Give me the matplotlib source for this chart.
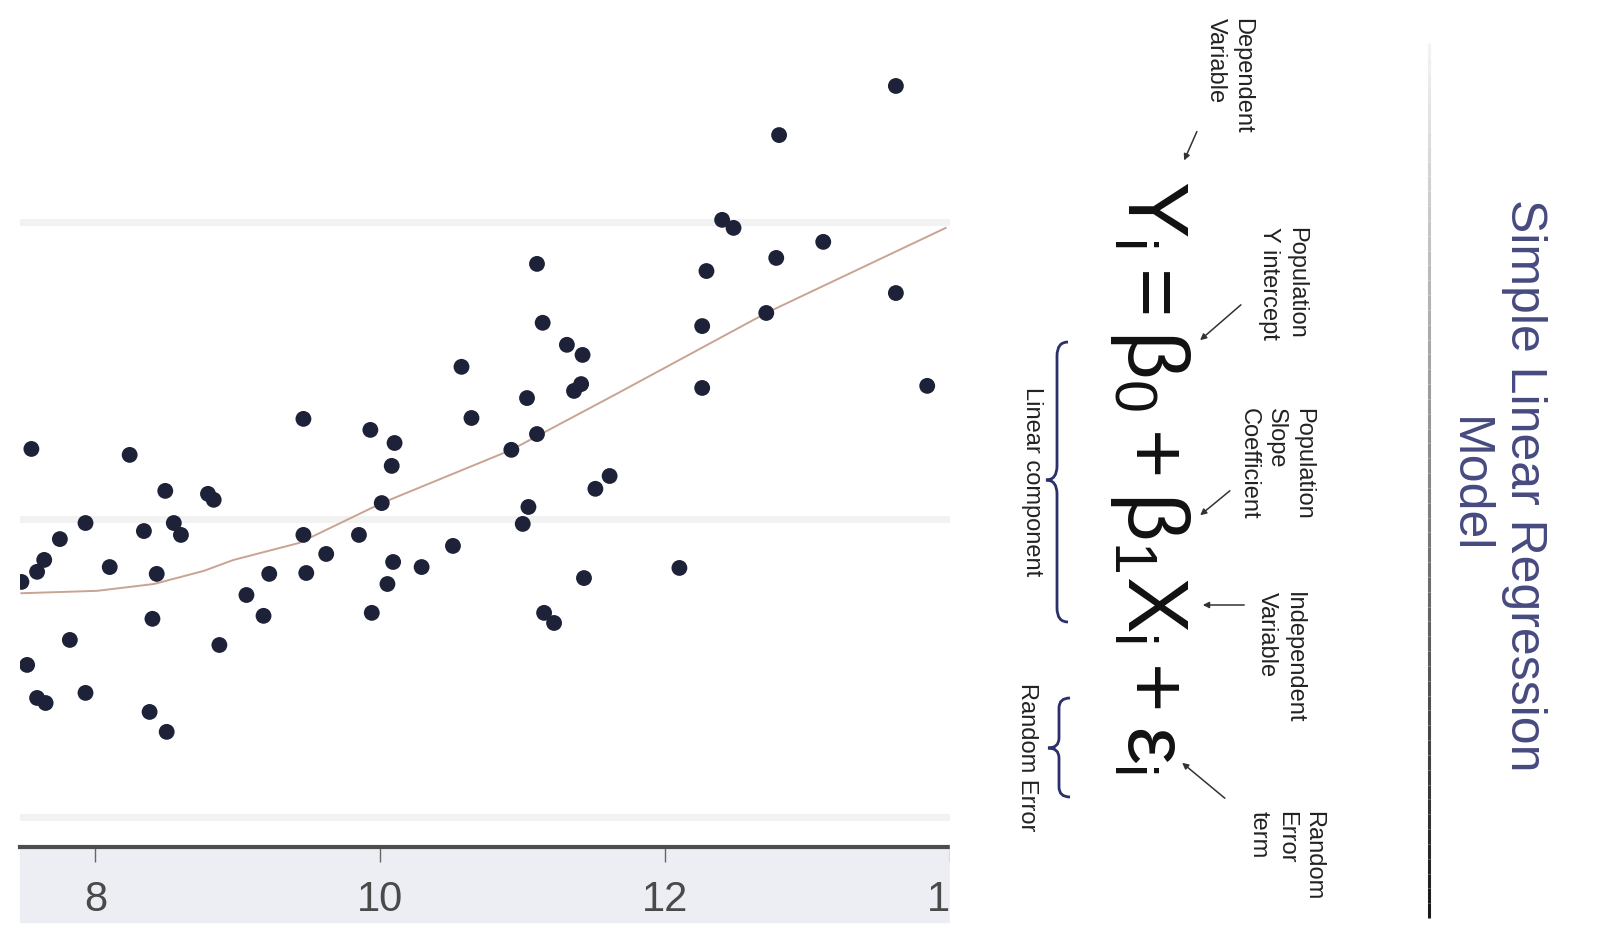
import numpy as np
import matplotlib.pyplot as plt
from matplotlib.patches import Rectangle, FancyArrowPatch, PathPatch
from matplotlib.path import Path
from matplotlib.collections import LineCollection
from matplotlib.transforms import Affine2D

plt.rcParams['font.family'] = ['Liberation Sans', 'DejaVu Sans']
plt.rcParams['mathtext.fontset'] = 'custom'
plt.rcParams['mathtext.rm'] = 'Liberation Sans'
plt.rcParams['mathtext.it'] = 'Liberation Sans'
plt.rcParams['mathtext.bf'] = 'Liberation Sans:bold'

x_obs = [13.62, 12.80, 12.40, 12.48, 13.11, 12.29, 12.78, 11.10, 13.62, 12.26,
         12.71, 11.14, 11.31, 11.42, 11.41, 11.36, 10.57, 12.26, 13.84, 11.03,
         9.46, 10.64, 9.93, 10.10, 11.10, 10.92, 7.55, 8.24, 10.08, 8.49,
         8.79, 8.83, 11.61, 11.51, 11.04, 11.00, 10.01, 7.93, 8.34, 8.55,
         8.60, 7.75, 9.46, 9.85, 10.51, 7.64, 7.59, 7.48, 8.10, 8.43,
         9.62, 10.09, 10.29, 9.48, 9.22, 12.10, 11.43, 10.05, 9.06, 8.40,
         9.18, 9.94, 11.15, 11.22, 7.82, 8.87, 7.52, 7.59, 7.65, 7.93,
         8.38, 8.50]
y_obs = [34.57, 32.92, 30.07, 29.80, 29.33, 28.35, 28.79, 28.59, 27.61, 26.50,
         26.94, 26.61, 25.87, 25.53, 24.55, 24.32, 25.13, 24.42, 24.49, 24.08,
         23.38, 23.41, 23.01, 22.57, 22.87, 22.34, 22.37, 22.17, 21.80, 20.96,
         20.86, 20.66, 21.46, 21.03, 20.42, 19.85, 20.55, 19.88, 19.61, 19.88,
         19.48, 19.34, 19.48, 19.48, 19.11, 18.64, 18.24, 17.90, 18.40, 18.17,
         18.84, 18.57, 18.40, 18.20, 18.17, 18.37, 18.03, 17.83, 17.46, 16.66,
         16.76, 16.86, 16.86, 16.52, 15.95, 15.78, 15.11, 14.00, 13.83, 14.17,
         13.53, 12.86]

# fitted curve
x_fit = [7.48, 8.01, 8.41, 8.76, 8.97, 9.43, 10.01, 10.92, 11.67, 12.71, 13.97]
y_fit = [17.52, 17.60, 17.83, 18.27, 18.64, 19.21, 20.55, 22.34, 24.25, 26.94, 29.80]

x_ticks = [8, 10, 12, 14]
y_grid = [10, 20, 30]

W, H = 1600, 940
fig = plt.figure(figsize=(16, 9.4), dpi=100)
# pixel coords, origin top-left
px = Affine2D().scale(1 / W, -1 / H).translate(0, 1) + fig.transFigure

# ---- scatter panel ----
ax = fig.add_axes([20 / W, 1 - 847 / H, 930 / W, 847 / H])
ax.set_xlim(7.47, 13.98)
ax.set_ylim(8.99, 37.46)
ax.set_axisbelow(True)
ax.set_yticks(y_grid)
ax.yaxis.grid(True, color='#f2f2f2', lw=5)
ax.tick_params(axis='y', left=False, labelleft=False)
ax.set_xticks(x_ticks)
ax.tick_params(axis='x', direction='out', length=11, width=1, color='#666666',
               labelsize=30, labelcolor='#4a4a4a', pad=13)
for s in ['left', 'top', 'right']:
    ax.spines[s].set_visible(False)
ax.spines['bottom'].set_color('#4d4d4d')
ax.spines['bottom'].set_linewidth(3)

ax.plot(x_fit, y_fit, color='#c9a393', lw=1.4, zorder=2)
ax.scatter(x_obs, y_obs, s=130, color='#1d2238', edgecolors='none', zorder=3)

# band under the axis and cut at the right
fig.add_artist(Rectangle((20, 847), 930, 75, transform=px, color='#eceef4', zorder=-1))
fig.add_artist(Rectangle((950, 830), 80, 110, transform=px, color='white', zorder=5))

# ---- rotated slide on the right ----
ys = np.linspace(43, 918, 60)
segs = [[(1429, a), (1429, b)] for a, b in zip(ys[:-1], ys[1:])]
shade = np.linspace(0.95, 0.1, len(segs))
fig.add_artist(LineCollection(segs, colors=[(g, g, g) for g in shade],
                              linewidths=2.2, transform=px))

fig.text(1496, 485, 'Simple Linear Regression\nModel', transform=px, rotation=-90,
         ha='center', va='center', fontsize=36, color='#474a80', linespacing=1.3)

fig.text(1150, 477, r'$Y_i = \beta_0 + \beta_1 X_i + \varepsilon_i$', transform=px,
         rotation=-90, ha='center', va='center', fontsize=61, color='#111111')

labels = [('Dependent\nVariable', 1229, 18),
          ('Population\nY intercept', 1283, 227),
          ('Population\nSlope\nCoefficient', 1276, 408),
          ('Independent\nVariable', 1280, 592),
          ('Random\nError\nterm', 1286, 811)]
for txt, lx, ly in labels:
    fig.text(lx, ly, txt, transform=px, rotation=-90, ha='center', va='top',
             multialignment='left', fontsize=17, color='#222222', linespacing=1.3)

fig.text(1032, 482, 'Linear component', transform=px, rotation=-90,
         ha='center', va='center', fontsize=17, color='#222222')
fig.text(1027, 757, 'Random Error', transform=px, rotation=-90,
         ha='center', va='center', fontsize=17, color='#222222')

arrows = [((1198, 129), (1183, 163)),
          ((1243, 303), (1198, 342)),
          ((1232, 489), (1198, 517)),
          ((1247, 605), (1200, 605)),
          ((1227, 800), (1180, 761))]
for a, b in arrows:
    fig.add_artist(FancyArrowPatch(a, b, transform=px, arrowstyle='-|>',
                                   mutation_scale=9, lw=1.1, color='#333333'))


def brace(x_end, x_tip, y0, y1, ymid, r=14):
    xs = (x_end + x_tip) / 2
    verts = [(x_end, y0), (xs, y0), (xs, y0 + r), (xs, ymid - r),
             (xs, ymid), (x_tip, ymid), (xs, ymid), (xs, ymid + r),
             (xs, y1 - r), (xs, y1), (x_end, y1)]
    codes = [Path.MOVETO, Path.CURVE3, Path.CURVE3, Path.LINETO,
             Path.CURVE3, Path.CURVE3, Path.CURVE3, Path.CURVE3,
             Path.LINETO, Path.CURVE3, Path.CURVE3]
    fig.add_artist(PathPatch(Path(verts, codes), transform=px, fill=False,
                             ec='#2b2f6b', lw=2))


brace(1068, 1046, 342, 622, 480)
brace(1070, 1048, 698, 797, 748, r=10)

fig.savefig('out.png', dpi=100, facecolor='white')
